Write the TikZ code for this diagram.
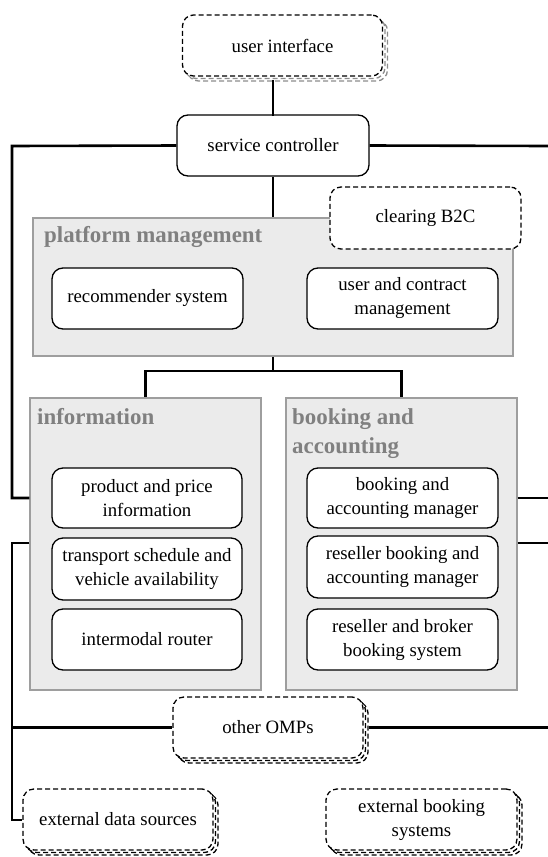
\documentclass[tikz,border=0pt]{standalone}
\usepackage{fontspec}
\setmainfont{Liberation Serif}[Ligatures=TeX]
\begin{document}
\begin{tikzpicture}[x=1pt,y=-1pt,
  every node/.style={font=\fontsize{18.8}{24}\selectfont, align=center, inner sep=0pt},
  comp/.style={draw=black, line width=1.3pt, fill=white, rounded corners=11pt, minimum width=191pt, minimum height=61pt},
  ext/.style={comp, dashed, dash pattern=on 5pt off 3pt},
  extcopy/.style={ext},
  uicopy/.style={ext, draw=black!45},
  group/.style={draw=black!38, line width=1.2pt, fill=black!8},
  title/.style={font=\fontsize{22.9}{29}\selectfont\bfseries, text=black!50, align=left, anchor=north west},
  conn/.style={line width=2.6pt, line cap=rect}
]
\useasboundingbox (0,0) rectangle (548,857);

% containers
\node[group, minimum width=480pt, minimum height=138pt] (pm) at (273,287) {};
\node[group, minimum width=231pt, minimum height=292pt] (info) at (145.5,544) {};
\node[group, minimum width=231pt, minimum height=292pt] (book) at (401.5,544) {};
\node[title] (pmt) at (44,226) {platform management};
\node[title] (infot) at (37,408) {information};
\node[title] (bookt) at (292,408) {booking and\\accounting};

% user interface (stacked)
\node[uicopy, minimum width=200pt] (ui3) at (287.5,50.5) {};
\node[uicopy, minimum width=200pt] (ui2) at (285,48) {};
\node[ext, minimum width=200pt] (ui) at (282.5,45.5) {user interface};

% service controller
\node[comp, minimum width=192pt] (sc) at (273,145.5) {service controller};

% clearing
\node[ext, minimum height=62pt] (clr) at (425.5,218) {clearing B2C};

% platform mgmt parts
\node[comp] (rec) at (147.5,298.5) {recommender system};
\node[comp] (ucm) at (402.5,298.5) {user and contract\\management};

% information parts
\node[comp, minimum width=190pt, minimum height=60pt] (ppi) at (147,498) {product and price\\information};
\node[comp, minimum width=190pt, minimum height=62pt] (tsv) at (147,569) {transport schedule and\\vehicle availability};
\node[comp, minimum width=190pt] (imr) at (147,639.5) {intermodal router};

% booking parts
\node[comp, minimum height=60pt] (bam) at (402.5,498) {booking and\\accounting manager};
\node[comp, minimum height=62pt] (rbam) at (402.5,567) {reseller booking and\\accounting manager};
\node[comp] (rbbs) at (402.5,639.5) {reseller and broker\\booking system};

% other OMPs (stacked)
\node[extcopy, minimum width=190pt] (omp3) at (273,732.5) {};
\node[extcopy, minimum width=190pt] (omp2) at (270.5,730) {};
\node[ext, minimum width=190pt] (omp) at (268,727.5) {other OMPs};

% external data sources (stacked)
\node[extcopy, minimum width=190pt] (eds3) at (123,824.5) {};
\node[extcopy, minimum width=190pt] (eds2) at (120.5,822) {};
\node[ext, minimum width=190pt] (eds) at (118,819.5) {external data sources};

% external booking systems (stacked)
\node[extcopy] (ebs3) at (426.5,824.5) {};
\node[extcopy] (ebs2) at (424,822) {};
\node[ext] (ebs) at (421.5,819.5) {external booking\\systems};

% coordinates for frame edges
\coordinate (L1) at (12,146);
\coordinate (R1) at (548,146);
\coordinate (J) at (273,371);

% connectors
\draw[conn] (sc.north) -- (sc.north |- ui3.south);
\draw[conn, line cap=butt] (sc.south) -- (pm.north -| sc.south);
\draw[conn, line cap=butt] (pm.south -| J) -- (J);
\draw[conn] (J -| info.north) -- (J -| book.north);
\draw[conn, line cap=butt] (J -| info.north) -- (info.north);
\draw[conn, line cap=butt] (J -| book.north) -- (book.north);
\draw[conn, line cap=butt] (sc.west) -- (L1) -- (L1 |- ppi) -- (info.west |- ppi);
\draw[conn, line cap=butt] (sc.east) -- (R1);
\draw[conn, line cap=butt] (book.east |- bam) -- (R1 |- bam);
\draw[conn, line cap=butt] (book.east |- 0,543) -- (R1 |- 0,543);
\draw[conn, line cap=butt] (info.west |- 0,543) -- (L1 |- 0,543) -- (L1 |- 0,820) -- (eds.west |- 0,820);
\draw[conn, line cap=butt] (L1 |- omp) -- (omp.west);
\draw[conn, line cap=butt] (omp3.east |- omp) -- (R1 |- omp);
\end{tikzpicture}
\end{document}
